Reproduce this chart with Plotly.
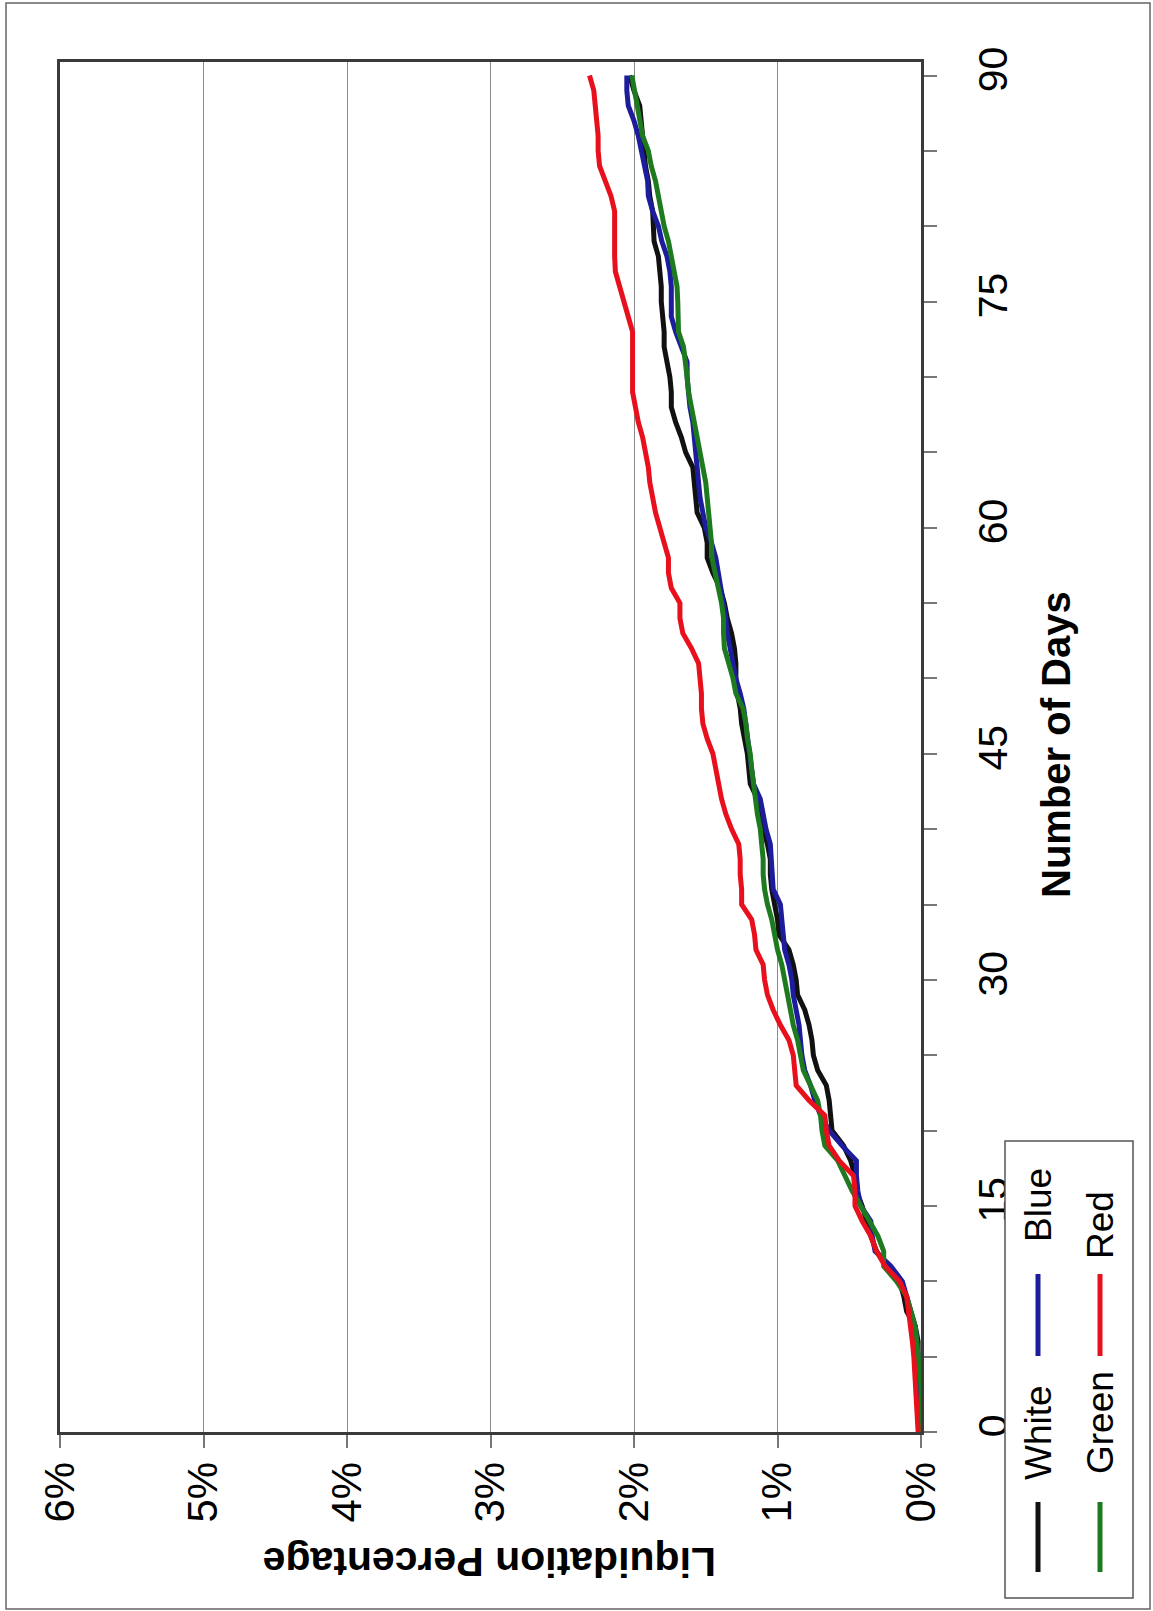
import plotly.graph_objects as go

# ---------------- data ----------------
days = list(range(0, 91))

white = [0.01, 0.01, 0.01, 0.015, 0.02, 0.02, 0.02, 0.04, 0.10, 0.12,
         0.15, 0.24, 0.31, 0.35, 0.38, 0.41, 0.45, 0.46, 0.49, 0.54,
         0.62, 0.63, 0.64, 0.66, 0.72, 0.75, 0.76, 0.78, 0.81, 0.86,
         0.87, 0.89, 0.92, 0.99, 1.00, 1.02, 1.04, 1.05, 1.05, 1.07,
         1.10, 1.12, 1.14, 1.19, 1.20, 1.21, 1.23, 1.25, 1.26, 1.28,
         1.29, 1.29, 1.30, 1.32, 1.35, 1.37, 1.40, 1.45, 1.49, 1.49,
         1.51, 1.56, 1.57, 1.58, 1.59, 1.64, 1.67, 1.71, 1.74, 1.74,
         1.75, 1.77, 1.79, 1.79, 1.80, 1.81, 1.81, 1.82, 1.83, 1.86,
         1.865, 1.87, 1.89, 1.90, 1.92, 1.93, 1.94, 1.95, 1.96, 2.00,
         2.03]

blue = [0.01, 0.01, 0.01, 0.015, 0.02, 0.02, 0.03, 0.04, 0.07, 0.10,
        0.13, 0.21, 0.32, 0.34, 0.35, 0.42, 0.44, 0.45, 0.45, 0.55,
        0.64, 0.70, 0.74, 0.77, 0.81, 0.83, 0.84, 0.85, 0.87, 0.89,
        0.90, 0.92, 0.95, 0.96, 0.97, 0.98, 1.03, 1.035, 1.04, 1.05,
        1.08, 1.10, 1.12, 1.167, 1.18, 1.19, 1.21, 1.22, 1.235, 1.26,
        1.29, 1.31, 1.33, 1.35, 1.36, 1.376, 1.39, 1.41, 1.43, 1.46,
        1.50, 1.52, 1.54, 1.55, 1.56, 1.57, 1.575, 1.59, 1.61, 1.62,
        1.63, 1.63, 1.67, 1.71, 1.74, 1.74, 1.74, 1.75, 1.77, 1.806,
        1.83, 1.87, 1.90, 1.905, 1.925, 1.945, 1.97, 2.00, 2.04, 2.05,
        2.05]

green = [0.0, 0.0, 0.0, 0.0, 0.01, 0.02, 0.025, 0.04, 0.07, 0.10,
         0.17, 0.26, 0.26, 0.30, 0.36, 0.42, 0.48, 0.53, 0.58, 0.67,
         0.69, 0.70, 0.72, 0.77, 0.82, 0.84, 0.86, 0.89, 0.91, 0.93,
         0.95, 0.97, 1.00, 1.02, 1.04, 1.07, 1.09, 1.10, 1.10, 1.11,
         1.12, 1.14, 1.155, 1.167, 1.18, 1.19, 1.21, 1.22, 1.24, 1.29,
         1.31, 1.34, 1.37, 1.376, 1.376, 1.39, 1.41, 1.43, 1.457, 1.46,
         1.47, 1.48, 1.49, 1.50, 1.52, 1.54, 1.56, 1.58, 1.60, 1.62,
         1.63, 1.64, 1.655, 1.69, 1.69, 1.695, 1.70, 1.72, 1.736, 1.76,
         1.79, 1.81, 1.83, 1.85, 1.88, 1.90, 1.94, 1.96, 1.98, 2.00,
         2.015]

red = [0.02, 0.025, 0.03, 0.035, 0.04, 0.05, 0.06, 0.075, 0.09, 0.10,
       0.15, 0.25, 0.31, 0.35, 0.41, 0.46, 0.46, 0.47, 0.57, 0.64,
       0.66, 0.67, 0.78, 0.87, 0.88, 0.89, 0.92, 0.98, 1.03, 1.07,
       1.09, 1.10, 1.15, 1.16, 1.18, 1.25, 1.25, 1.26, 1.26, 1.27,
       1.32, 1.36, 1.39, 1.41, 1.43, 1.45, 1.49, 1.52, 1.53, 1.53,
       1.54, 1.55, 1.60, 1.66, 1.68, 1.68, 1.74, 1.76, 1.76, 1.79,
       1.82, 1.85, 1.87, 1.89, 1.90, 1.92, 1.94, 1.97, 1.99, 2.01,
       2.01, 2.01, 2.01, 2.01, 2.04, 2.07, 2.10, 2.13, 2.135, 2.135,
       2.135, 2.135, 2.16, 2.20, 2.24, 2.25, 2.25, 2.26, 2.27, 2.28,
       2.31]

series_names = ["White", "Blue", "Green", "Red"]
series_values = [white, blue, green, red]
series_colors = ["#111111", "#1c1c9c", "#1e7a1e", "#e8101c"]

pct_ticks = [0, 1, 2, 3, 4, 5, 6]
pct_labels = ["0%", "1%", "2%", "3%", "4%", "5%", "6%"]
day_ticks = [0, 15, 30, 45, 60, 75, 90]
day_labels = ["0", "15", "30", "45", "60", "75", "90"]

x_title = "Number of Days"
y_title = "Liquidation Percentage"

# ---------------- layout geometry (pixels) ----------------
W, H = 1153, 1611
L, R, T, B = 60, 921, 62, 1432
FONT = "Liberation Sans, Arial, sans-serif"


def px(x):
    return (x - L) / (R - L)


def py(y):
    return (B - y) / (B - T)


fig = go.Figure()
for name, vals, col in zip(series_names, series_values, series_colors):
    fig.add_trace(go.Scatter(x=vals, y=days, mode="lines", name=name,
                             line=dict(color=col, width=5),
                             showlegend=False))

fig.update_layout(
    width=W, height=H,
    margin=dict(l=L, r=W - R, t=T, b=H - B, pad=0),
    paper_bgcolor="white", plot_bgcolor="white",
    font=dict(family=FONT, color="black"),
    showlegend=False,
)

fig.update_xaxes(
    range=[6, 0], tickvals=pct_ticks, ticktext=pct_labels,
    tickangle=-90, tickfont=dict(size=42, family=FONT, color="black"),
    ticks="outside", ticklen=13, tickwidth=1.5, tickcolor="#777",
    ticklabelstandoff=-3,
    showgrid=True, gridcolor="#8a8a8a", gridwidth=1,
    showline=True, linecolor="#3a3a3a", linewidth=3, mirror=True,
    zeroline=False,
)
fig.update_yaxes(
    range=[0, 90.9], side="right", tickvals=day_ticks, ticktext=day_labels,
    tickangle=-90, tickfont=dict(size=41, family=FONT, color="black"),
    ticks="outside", ticklen=13, tickwidth=1.5, tickcolor="#777",
    minor=dict(dtick=5, tick0=0, ticks="outside", ticklen=13,
               tickwidth=1.5, tickcolor="#777", showgrid=False),
    ticklabelstandoff=21,
    showgrid=False,
    showline=True, linecolor="#3a3a3a", linewidth=3, mirror=True,
    zeroline=False,
)

annotations = []
shapes = []

# axis titles (rotated as in the scanned page)
annotations.append(dict(text="<b>%s</b>" % x_title, xref="paper", yref="paper",
                        x=px(1056), y=py(745), xanchor="center", yanchor="middle",
                        textangle=-90, showarrow=False,
                        font=dict(size=40, family=FONT, color="black")))
annotations.append(dict(text="<b>%s</b>" % y_title, xref="paper", yref="paper",
                        x=px(490), y=py(1562), xanchor="center", yanchor="middle",
                        textangle=180, showarrow=False,
                        font=dict(size=41, family=FONT, color="black")))

# legend box
shapes.append(dict(type="rect", xref="paper", yref="paper",
                   x0=px(1005), x1=px(1133), y0=py(1598), y1=py(1141),
                   line=dict(color="#555", width=1.5), fillcolor="white"))

legend_pos = {  # name: (column x, key y0, key y1, text centre y)
    "White": (1038, 1502, 1572, 1433),
    "Blue": (1038, 1274, 1356, 1205),
    "Green": (1100, 1502, 1572, 1423),
    "Red": (1100, 1274, 1356, 1225),
}
for name, col in zip(series_names, series_colors):
    cx, k0, k1, ty = legend_pos[name]
    shapes.append(dict(type="line", xref="paper", yref="paper",
                       x0=px(cx), x1=px(cx), y0=py(k0), y1=py(k1),
                       line=dict(color=col, width=5)))
    annotations.append(dict(text=name, xref="paper", yref="paper",
                            x=px(cx), y=py(ty), xanchor="center", yanchor="middle",
                            textangle=-90, showarrow=False,
                            font=dict(size=37, family=FONT, color="black")))

# page border of the scan
shapes.append(dict(type="rect", xref="paper", yref="paper",
                   x0=px(6), x1=px(1150), y0=py(1609), y1=py(3),
                   line=dict(color="#666", width=1.5)))

fig.update_layout(annotations=annotations, shapes=shapes)
fig.write_html("out.html")
